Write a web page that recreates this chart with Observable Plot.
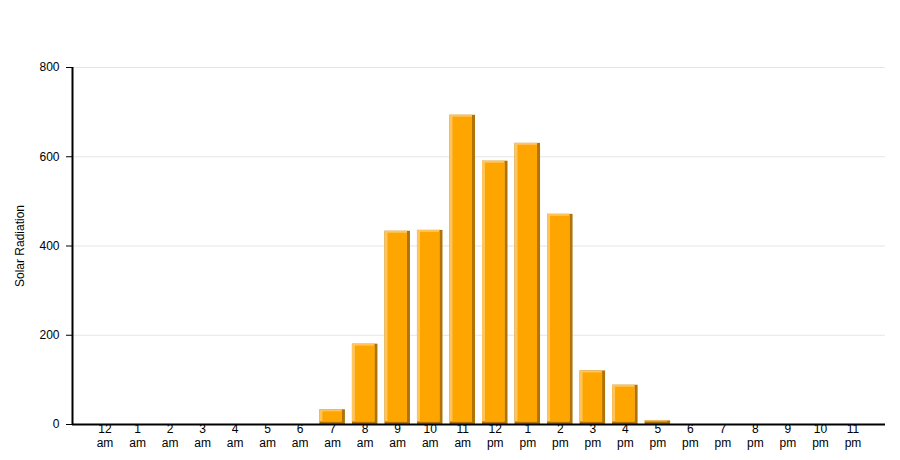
<!DOCTYPE html>
<html>
<head>
<meta charset="utf-8">
<script src="https://cdn.jsdelivr.net/npm/d3@7"></script>
<script src="https://cdn.jsdelivr.net/npm/@observablehq/plot@0.6"></script>
<style>
  html, body { margin: 0; padding: 0; background: #fff; }
</style>
</head>
<body>
<div id="chart"></div>
<script>
const hourLabels = ["12","1","2","3","4","5","6","7","8","9","10","11","12","1","2","3","4","5","6","7","8","9","10","11"];
const periods = ["am","am","am","am","am","am","am","am","am","am","am","am","pm","pm","pm","pm","pm","pm","pm","pm","pm","pm","pm","pm"];
const radiation = [0,0,0,0,0,0,0,33,180,433,435,693,590,630,471,120,88,8,0,0,0,0,0,0];
const yTicks = [0, 200, 400, 600, 800];

const data = radiation.map((v, i) => ({hour: i, num: hourLabels[i], period: periods[i], value: v}));
const bars = data.filter(d => d.value > 0);

const dark = "#b07306";
const light = "#ffc45c";
const orange = "#ffa500";

const chart = Plot.plot({
  width: 900,
  height: 460,
  marginLeft: 72,
  marginRight: 15,
  marginTop: 67,
  marginBottom: 36,
  style: {fontFamily: "'Liberation Sans', Arial, sans-serif", fontSize: "12px", background: "#fff", color: "#000"},
  x: {domain: [-1, 24], axis: null},
  y: {domain: [0, 800], ticks: yTicks, tickSize: 6, tickPadding: 7, grid: true, label: null},
  marks: [
    Plot.rectY(bars, {x1: d => d.hour - 0.5, x2: d => d.hour + 0.5, y: "value", fill: dark, insetLeft: 3.5, insetRight: 3.5}),
    Plot.rectY(bars, {x1: d => d.hour - 0.5, x2: d => d.hour + 0.5, y: "value", fill: light, insetLeft: 3.5, insetRight: 6.5, insetBottom: 2.5}),
    Plot.rectY(bars.filter(d => d.value > 12), {x1: d => d.hour - 0.5, x2: d => d.hour + 0.5, y: "value", fill: orange, insetLeft: 6.5, insetRight: 6.5, insetTop: 2, insetBottom: 2.5}),
    Plot.text(data, {x: "hour", frameAnchor: "bottom", text: "num", lineAnchor: "top", dy: 0, fontSize: 12, fill: "#000"}),
    Plot.text(data, {x: "hour", frameAnchor: "bottom", text: "period", lineAnchor: "top", dy: 14, fontSize: 12, fill: "#000"}),
    Plot.ruleY([0], {stroke: "#000", strokeWidth: 2}),
    Plot.ruleX([-1], {stroke: "#000", strokeWidth: 2}),
    Plot.text(["Solar Radiation"], {frameAnchor: "left", textAnchor: "middle", rotate: -90, dx: -52, fontSize: 12, fill: "#000"})
  ]
});
document.getElementById("chart").appendChild(chart);
</script>
</body>
</html>
